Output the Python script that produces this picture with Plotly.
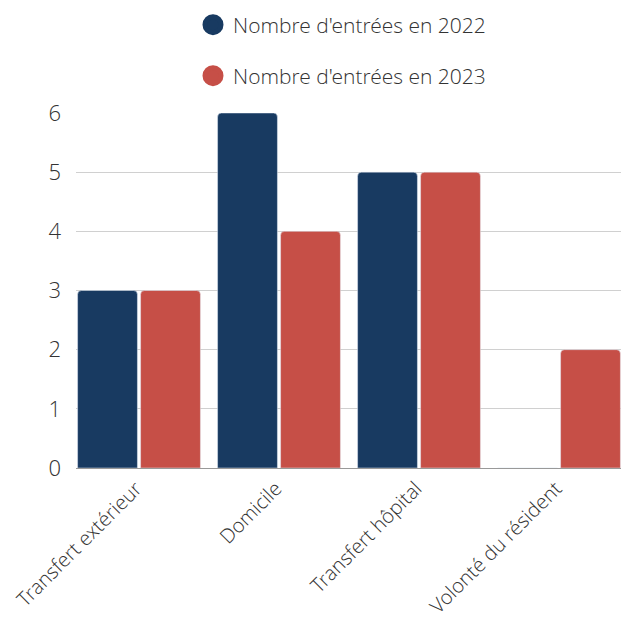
import plotly.graph_objects as go

categories = ["Transfert extérieur", "Domicile", "Transfert hôpital", "Volonté du résident"]
values_2022 = [3, 6, 5, 0]
values_2023 = [3, 4, 5, 2]
series_names = ["Nombre d'entrées en 2022", "Nombre d'entrées en 2023"]
y_ticks = [0, 1, 2, 3, 4, 5, 6]

BLUE = "#183A61"
RED = "#C64F47"
FONT = "Open Sans Light, Open Sans"
FS = 21
W, H = 621, 612  # page body has an 8px margin; keeps the figure inside the 629x620 window

fig = go.Figure()
fig.add_trace(go.Bar(x=categories, y=values_2022, marker=dict(color=BLUE, cornerradius=4),
                     showlegend=False, name=series_names[0]))
fig.add_trace(go.Bar(x=categories, y=values_2023, marker=dict(color=RED, cornerradius=4),
                     showlegend=False, name=series_names[1]))
# legend entries with circle symbols
fig.add_trace(go.Scatter(x=[categories[0]], y=[None], mode="markers", name=series_names[0],
                         marker=dict(symbol="circle", size=16, color=BLUE, line=dict(color=BLUE, width=5)),
                         legend="legend", hoverinfo="skip"))
fig.add_trace(go.Scatter(x=[categories[0]], y=[None], mode="markers", name=series_names[1],
                         marker=dict(symbol="circle", size=16, color=RED, line=dict(color=RED, width=5)),
                         legend="legend2", hoverinfo="skip"))

legend_common = dict(font=dict(family=FONT, size=FS, color="#333333", weight=300),
                     bgcolor="rgba(0,0,0,0)", borderwidth=0,
                     xref="container", yref="container", xanchor="left", yanchor="middle")

fig.update_layout(
    width=W, height=H,
    margin=dict(l=68, r=7, t=105, b=152, autoexpand=False),
    paper_bgcolor="white", plot_bgcolor="white",
    barmode="group", bargap=0.1, bargroupgap=0.05,
    font=dict(family=FONT, size=FS, color="#333333", weight=300),
    legend=dict(x=185/W, y=1 - 17/H, **legend_common),
    legend2=dict(x=185/W, y=1 - 68/H, **legend_common),
    xaxis=dict(type="category", categoryorder="array", categoryarray=categories,
               range=[-0.45, 3.45], tickangle=-45, showgrid=False, showline=False,
               zeroline=False, ticks="", automargin=False,
               ticklabelstandoff=4, ticklabelshift=-3,
               tickfont=dict(family=FONT, size=20, color="#333333", weight=300)),
    yaxis=dict(range=[0, 6], tickvals=y_ticks, showgrid=True, gridcolor="#d0d0d0", gridwidth=1,
               zeroline=True, zerolinecolor="#999999", zerolinewidth=1, showline=False,
               ticks="", ticklabelstandoff=14, automargin=False,
               tickfont=dict(family=FONT, size=22, color="#333333", weight=300)),
)

fig.write_html("out.html")
